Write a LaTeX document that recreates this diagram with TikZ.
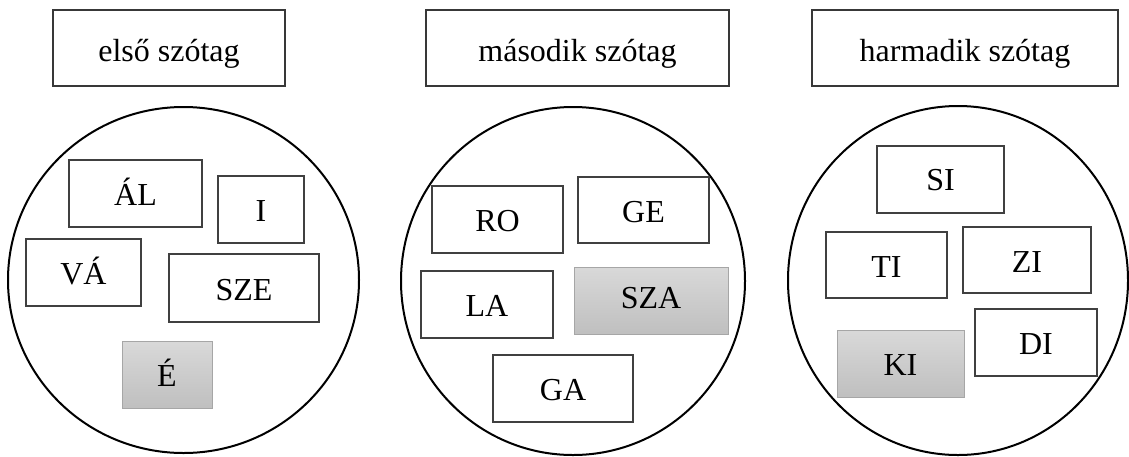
\documentclass[tikz,border=0pt]{standalone}
\usepackage{fontspec}
\setmainfont{Liberation Serif}
\usetikzlibrary{shapes.geometric}
\tikzset{
  ring/.style={draw=black, line width=2pt, ellipse, inner sep=0pt},
  title/.style={draw=black!78, line width=1.4pt, fill=white, inner sep=0pt,
    font=\fontsize{32}{38}\selectfont, text height=26pt, text depth=0pt},
  syl/.style={draw=black!75, line width=1.3pt, fill=white, inner sep=0pt,
    font=\fontsize{32}{38}\selectfont, text height=24pt, text depth=0pt},
  hit/.style={syl, draw=black!35, line width=1pt, top color=black!15, bottom color=black!25}
}
\begin{document}
\begin{tikzpicture}[x=1pt, y=-1pt]
\useasboundingbox (0,0) rectangle (1129,456);
% titles
\node[title, minimum width=232pt, minimum height=76pt] (t1) at (169,48) {első szótag};
\node[title, minimum width=303pt, minimum height=76pt] (t2) at (577.5,48) {második szótag};
\node[title, minimum width=306pt, minimum height=76pt] (t3) at (965,48) {harmadik szótag};
% circles
\node[ring, minimum width=351pt, minimum height=346pt] (c1) at (183.5,280) {};
\node[ring, minimum width=344pt, minimum height=348pt] (c2) at (573,281) {};
\node[ring, minimum width=340pt, minimum height=349pt] (c3) at (958,280.5) {};
% circle 1
\node[syl, minimum width=133pt, minimum height=67pt] (al) at (135.5,193.5) {ÁL};
\node[syl, minimum width=86pt, minimum height=67pt] (i) at (261,209.5) {I};
\node[syl, minimum width=115pt, minimum height=67pt] (va) at (83.5,272.5) {VÁ};
\node[syl, minimum width=150pt, minimum height=68pt] (sze) at (244,288) {SZE};
\node[hit, minimum width=90pt, minimum height=67pt] (e) at (167,374.5) {É};
% circle 2
\node[syl, minimum width=131pt, minimum height=67pt] (ro) at (497.5,219.5) {RO};
\node[syl, minimum width=131pt, minimum height=66pt] (ge) at (643.5,210) {GE};
\node[syl, minimum width=132pt, minimum height=67pt] (la) at (487,304.5) {LA};
\node[hit, minimum width=154pt, minimum height=67pt, text height=15pt] (sza) at (651,300.5) {SZA};
\node[syl, minimum width=140pt, minimum height=67pt] (ga) at (563,388.5) {GA};
% circle 3
\node[syl, minimum width=127pt, minimum height=67pt, text height=21pt] (si) at (940.5,179.5) {SI};
\node[syl, minimum width=121pt, minimum height=66pt] (ti) at (886.5,265) {TI};
\node[syl, minimum width=128pt, minimum height=66pt] (zi) at (1027,260) {ZI};
\node[hit, minimum width=127pt, minimum height=67pt] (ki) at (900.5,363.5) {KI};
\node[syl, minimum width=122pt, minimum height=67pt] (di) at (1036,342.5) {DI};
\end{tikzpicture}
\end{document}
